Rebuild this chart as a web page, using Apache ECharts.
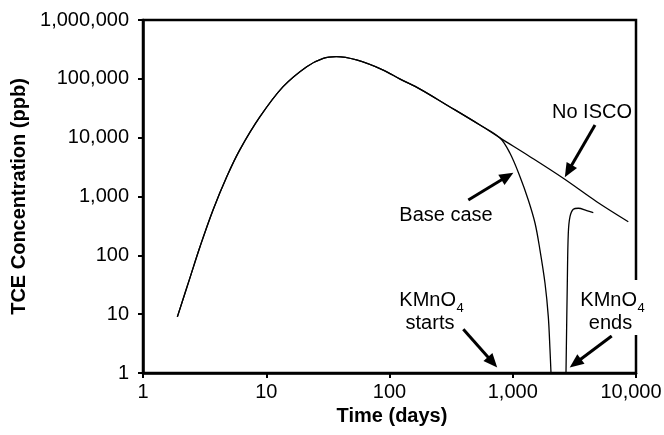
<!DOCTYPE html>
<html>
<head>
<meta charset="utf-8">
<script src="https://cdn.jsdelivr.net/npm/echarts@6/dist/echarts.min.js"></script>
<style>
  html, body { margin: 0; padding: 0; background: #fff; }
  #chart { width: 664px; height: 435px; }
</style>
</head>
<body>
<div id="chart"></div>
<script>
// TCE concentration (ppb) over time (days): no treatment vs. base case with KMnO4
const noIscoDays = [1.9, 2.4, 2.9, 3.7, 4.8, 6.1, 8.9, 13.7, 21.3, 29, 37, 54, 89, 122, 177, 291, 542, 788, 1380, 2570, 4800, 8660];
const noIscoPpb  = [9, 41, 140, 590, 2200, 6200, 22700, 73600, 161000, 223000, 238000, 209000, 141000, 99000, 67000, 36000, 16400, 9900, 4750, 2040, 816, 373];

const baseDays = [1.9, 2.4, 2.9, 3.7, 4.8, 6.1, 8.9, 13.7, 21.3, 29, 37, 54, 89, 122, 177, 291, 542, 788, 950, 1145, 1337, 1517, 1663, 1827, 1943, 2005, 2043];
const basePpb  = [9, 41, 140, 590, 2200, 6200, 22700, 73600, 161000, 223000, 238000, 209000, 141000, 99000, 67000, 36000, 16400, 9900, 5420, 2170, 873, 351, 123, 33.5, 9.1, 2.5, 1.0];

// rebound after the oxidant injection ends
const reboundDays = [2704, 2771, 2823, 2914, 3100, 3404, 3981, 4504];
const reboundPpb  = [1.0, 33.5, 237, 454, 606, 631, 574, 531];

const xTicks = [1, 10, 100, 1000, 10000];
const yTicks = [1, 10, 100, 1000, 10000, 100000, 1000000];

// annotation arrows: [tail, head] in (days, ppb)
const arrows = [
  [[4650, 16400], [2823, 2704]],   // No ISCO
  [[436, 873],    [905, 2205]],    // Base case
  [[397, 5.53],   [686, 1.526]],   // KMnO4 starts
  [[6353, 4.26],  [3218, 1.468]]   // KMnO4 ends
];

const FONT = '"Liberation Sans", Arial, Helvetica, sans-serif';
const withCommas = v => Math.round(v).toString().replace(/\B(?=(\d{3})+(?!\d))/g, ',');
const pairs = (xs, ys) => xs.map((x, i) => [x, ys[i]]);

// the last x label is nudged left so it stays inside the canvas
const xLabel = v => {
  const s = withCommas(v);
  return Math.round(v) === xTicks[xTicks.length - 1] ? '{edge|' + s + '}' : s;
};

const chart = echarts.init(document.getElementById('chart'), null, { renderer: 'canvas' });

const lineStyle = { color: '#000', width: 1.3 };

const option = {
  animation: false,
  backgroundColor: '#fff',
  grid: {
    left: 143, top: 20, right: 28, bottom: 62,
    show: true, borderColor: '#000', borderWidth: 2.5,
    outerBoundsMode: 'none'
  },
  xAxis: {
    type: 'log', logBase: 10,
    min: xTicks[0], max: xTicks[xTicks.length - 1], interval: 1,
    name: 'Time (days)', nameLocation: 'middle', nameGap: 27,
    nameTextStyle: { fontFamily: FONT, fontSize: 20, fontWeight: 'bold', color: '#000', padding: [0, 0, 0, 5] },
    axisLine: { show: true, onZero: false, lineStyle: { color: '#000', width: 2.5 } },
    axisTick: { show: true, inside: false, length: 5, lineStyle: { color: '#000', width: 2 } },
    axisLabel: {
      formatter: xLabel, fontFamily: FONT, fontSize: 20, color: '#000', margin: 9,
      rich: { edge: { fontFamily: FONT, fontSize: 20, color: '#000', padding: [0, 10, 0, 0] } }
    },
    splitLine: { show: false },
    minorTick: { show: false }
  },
  yAxis: {
    type: 'log', logBase: 10,
    min: yTicks[0], max: yTicks[yTicks.length - 1], interval: 1,
    name: 'TCE Concentration (ppb)', nameLocation: 'middle', nameGap: 110, nameRotate: 90,
    nameTextStyle: { fontFamily: FONT, fontSize: 20, fontWeight: 'bold', color: '#000' },
    axisLine: { show: true, onZero: false, lineStyle: { color: '#000', width: 2.5 } },
    axisTick: { show: true, inside: false, length: 5, lineStyle: { color: '#000', width: 2 } },
    axisLabel: { formatter: withCommas, fontFamily: FONT, fontSize: 20, color: '#000', margin: 14 },
    splitLine: { show: false },
    minorTick: { show: false }
  },
  series: [
    {
      name: 'No ISCO', type: 'line', data: pairs(noIscoDays, noIscoPpb),
      showSymbol: false, smooth: 0.35, lineStyle, silent: true, z: 3,
      markLine: {
        silent: true, animation: false,
        symbol: ['none', 'triangle'], symbolSize: [12, 14],
        label: { show: false },
        lineStyle: { color: '#000', width: 3, type: 'solid' },
        itemStyle: { color: '#000' },
        emphasis: { disabled: true },
        data: arrows.map(([a, b]) => [{ coord: a }, { coord: b }])
      }
    },
    {
      name: 'Base case', type: 'line', data: pairs(baseDays, basePpb),
      showSymbol: false, smooth: 0.35, lineStyle, silent: true, z: 3
    },
    {
      name: 'Base case', type: 'line', data: pairs(reboundDays, reboundPpb),
      showSymbol: false, smooth: 0.35, lineStyle, silent: true, z: 3
    }
  ],
  graphic: [
    // opaque box behind the "KMnO4 ends" note (it sits over the frame)
    { type: 'rect', z: 100, shape: { x: 572, y: 280, width: 76, height: 55 }, style: { fill: '#fff' } },
    { type: 'text', z: 101, x: 592, y: 112,
      style: { text: 'No ISCO', fill: '#000', font: '20px ' + FONT, align: 'center', verticalAlign: 'middle', textAlign: 'center', textVerticalAlign: 'middle' } },
    { type: 'text', z: 101, x: 446, y: 215,
      style: { text: 'Base case', fill: '#000', font: '20px ' + FONT, align: 'center', verticalAlign: 'middle', textAlign: 'center', textVerticalAlign: 'middle' } },
    { type: 'text', z: 101, x: 456, y: 300,
      style: { text: 'KMnO', fill: '#000', font: '20px ' + FONT, align: 'right', verticalAlign: 'middle', textAlign: 'right', textVerticalAlign: 'middle' } },
    { type: 'text', z: 101, x: 456.5, y: 308,
      style: { text: '4', fill: '#000', font: '13px ' + FONT, align: 'left', verticalAlign: 'middle', textAlign: 'left', textVerticalAlign: 'middle' } },
    { type: 'text', z: 101, x: 430, y: 323,
      style: { text: 'starts', fill: '#000', font: '20px ' + FONT, align: 'center', verticalAlign: 'middle', textAlign: 'center', textVerticalAlign: 'middle' } },
    { type: 'text', z: 101, x: 637, y: 300,
      style: { text: 'KMnO', fill: '#000', font: '20px ' + FONT, align: 'right', verticalAlign: 'middle', textAlign: 'right', textVerticalAlign: 'middle' } },
    { type: 'text', z: 101, x: 637.5, y: 308,
      style: { text: '4', fill: '#000', font: '13px ' + FONT, align: 'left', verticalAlign: 'middle', textAlign: 'left', textVerticalAlign: 'middle' } },
    { type: 'text', z: 101, x: 610.5, y: 323,
      style: { text: 'ends', fill: '#000', font: '20px ' + FONT, align: 'center', verticalAlign: 'middle', textAlign: 'center', textVerticalAlign: 'middle' } }
  ]
};

chart.setOption(option);
</script>
</body>
</html>
